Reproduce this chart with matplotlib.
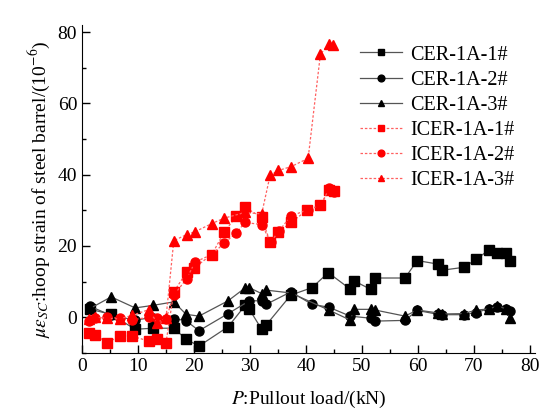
import matplotlib.pyplot as plt
from matplotlib.ticker import MultipleLocator

plt.rcParams['font.family'] = ['Liberation Serif', 'DejaVu Serif']
plt.rcParams['mathtext.fontset'] = 'stix'

# CER series (solid)
cer1_x = [1.5, 5.2, 9.5, 12.6, 16.4, 18.6, 20.9, 26.1, 29.2, 29.9, 32.1, 32.9, 37.3, 41.1, 44.0,
          47.9, 48.6, 51.6, 52.4, 57.7, 59.9, 63.6, 64.4, 68.2, 70.4, 72.7, 74.2, 75.7, 76.4]
cer1_y = [2.2, 0.8, -3.4, -3.1, -3.1, -6.2, -8.1, -2.7, 3.4, 2.2, -3.4, -2.2, 6.2, 8.3, 12.5,
          7.9, 10.2, 7.8, 11.0, 11.0, 15.9, 14.9, 13.2, 14.0, 16.2, 18.9, 18.1, 18.1, 15.9]

cer2_x = [1.5, 5.2, 9.5, 12.6, 16.4, 18.6, 20.9, 26.1, 29.9, 32.1, 32.9, 37.3, 41.1, 44.1,
          47.9, 51.6, 52.4, 57.7, 59.9, 63.6, 64.4, 68.2, 70.4, 72.7, 74.2, 75.7, 76.4]
cer2_y = [3.0, 0.5, -0.8, -0.1, -0.4, -1.0, -3.8, 1.0, 4.6, 4.6, 3.6, 7.1, 3.6, 2.8,
          0.3, -0.3, -1.1, -0.9, 1.9, 0.8, 0.7, 0.7, 1.3, 2.4, 2.8, 2.2, 1.8]

cer3_x = [1.5, 5.2, 9.5, 12.6, 16.4, 18.6, 20.9, 26.1, 29.2, 29.9, 32.1, 32.9, 37.3, 44.1,
          47.9, 48.6, 51.6, 52.4, 57.7, 59.9, 63.6, 64.4, 68.2, 70.4, 72.7, 74.2, 75.7, 76.4]
cer3_y = [2.5, 5.7, 2.6, 3.3, 4.3, 0.8, 0.3, 4.6, 8.3, 8.3, 6.6, 7.6, 6.8, 2.0,
          -0.8, 2.2, 2.2, 2.0, 0.3, 2.0, 1.2, 0.9, 1.0, 2.0, 2.3, 3.1, 2.4, -0.1]

# ICER series (dotted)
icer1_x = [1.2, 2.3, 4.5, 6.7, 8.9, 11.9, 13.4, 15.0, 16.4, 18.7, 20.0, 23.2, 25.4, 27.6,
           29.1, 32.1, 33.6, 35.1, 37.4, 40.2, 42.6, 44.2, 45.0]
icer1_y = [-4.4, -4.9, -7.2, -5.3, -5.3, -6.7, -6.0, -7.2, 7.1, 12.7, 13.8, 17.6, 23.9, 28.4,
           30.9, 28.0, 21.1, 23.9, 26.7, 30.0, 31.4, 35.8, 35.3]

icer2_x = [1.2, 2.3, 4.5, 6.7, 8.9, 11.9, 13.4, 15.0, 16.4, 18.7, 20.2, 23.2, 25.4, 27.6,
           29.1, 32.1, 33.7, 35.2, 37.3, 40.4, 42.6, 44.2, 45.0]
icer2_y = [-1.0, -0.3, 0.0, -0.2, -0.8, 0.0, -0.3, -0.5, 6.2, 10.8, 15.5, 17.6, 20.8, 23.7,
           26.6, 26.0, 21.1, 24.2, 28.4, 30.2, 31.4, 36.2, 35.2]

icer3_x = [1.2, 2.3, 4.5, 6.7, 8.9, 11.9, 13.4, 15.0, 16.4, 18.7, 20.2, 23.2, 25.4, 29.1,
           32.1, 33.6, 35.1, 37.4, 40.4, 42.6, 44.2, 44.9]
icer3_y = [-0.5, 0.0, -0.3, -0.5, 0.5, 2.1, -1.5, -0.3, 21.5, 23.2, 24.0, 26.3, 27.8, 29.4,
           29.0, 39.8, 41.2, 42.3, 44.6, 73.9, 76.7, 76.5]

labels = ['CER-1A-1#', 'CER-1A-2#', 'CER-1A-3#', 'ICER-1A-1#', 'ICER-1A-2#', 'ICER-1A-3#']

fig = plt.figure(figsize=(5.41, 4.19), dpi=100)
ax = fig.add_axes([0.1516, 0.158, 0.838, 0.782])

ms = 6.5
for xs, ys, m, lab in [(cer1_x, cer1_y, 's', labels[0]),
                       (cer2_x, cer2_y, 'o', labels[1]),
                       (cer3_x, cer3_y, '^', labels[2])]:
    ax.plot(xs, ys, color='#555555', lw=0.9, marker=m, ms=ms,
            mfc='black', mec='black', label=lab)

for xs, ys, m, lab in [(icer1_x, icer1_y, 's', labels[3]),
                       (icer2_x, icer2_y, 'o', labels[4]),
                       (icer3_x, icer3_y, '^', labels[5])]:
    ax.plot(xs, ys, color='#ff6060', lw=0.9, ls=(0, (2, 1.5)), marker=m, ms=ms,
            mfc='red', mec='red', label=lab)

ax.set_xlim(0, 81)
ax.set_ylim(-10, 82)
ax.xaxis.set_major_locator(MultipleLocator(10))
ax.xaxis.set_minor_locator(MultipleLocator(5))
ax.yaxis.set_major_locator(MultipleLocator(20))
ax.yaxis.set_minor_locator(MultipleLocator(10))
ax.tick_params(which='both', direction='in', labelsize=14, width=1)
ax.tick_params(which='major', length=6)
ax.tick_params(which='minor', length=3)
ax.spines['top'].set_visible(False)
ax.spines['right'].set_visible(False)

ax.set_xlabel('$P$:Pullout load/(kN)', fontsize=14, labelpad=10)
ax.set_ylabel(r'$\mu\varepsilon_{SC}$:hoop strain of steel barrel/(10$^{-6}$)', fontsize=14, labelpad=4)

ax.legend(loc='upper right', bbox_to_anchor=(0.98, 0.975), frameon=False, fontsize=14.5,
          labelspacing=0.3, handlelength=2.1, handletextpad=0.4, borderaxespad=0.2,
          markerscale=0.75)

plt.savefig('out.png', dpi=100)
